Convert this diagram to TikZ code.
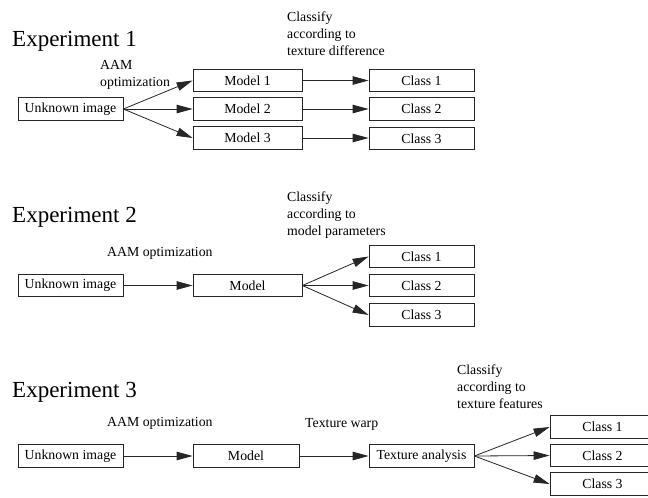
\documentclass[tikz,border=0pt]{standalone}
\usepackage{fontspec}
\setmainfont{Liberation Serif}
\usetikzlibrary{arrows.meta}

\tikzset{
  box/.style={draw=black!85, line width=0.8pt, minimum width=105pt, minimum height=22.5pt,
    inner sep=0pt, font=\fontsize{13.8}{16}\selectfont},
  modelbox/.style={box, minimum width=109pt},
  title/.style={anchor=base west, inner sep=0pt, font=\fontsize{23}{26}\selectfont},
  note/.style={anchor=base west, inner sep=0pt, align=left,
    font=\fontsize{13.8}{16.8}\selectfont},
  link/.style={draw=black!85, line width=0.8pt, -{Triangle[length=16pt,width=8.5pt]}},
}

\begin{document}
\begin{tikzpicture}[x=1pt, y=-1pt]
\useasboundingbox (0,0) rectangle (648,498);
\clip (0,0) rectangle (648,498);
\fill[white] (0,0) rectangle (648,498);

% ---------------- Experiment 1 ----------------
% multi-line notes are placed by the baseline of their last line
\node[title] (t1) at (12,46) {Experiment 1};
\node[note] (aam1) at (100,86) {AAM\\optimization};
\node[note] (cls1) at (287,55) {Classify\\according to\\texture difference};

\node[box] (u1) at (70.5,109) {Unknown image};
\node[modelbox] (m11) at (247.5,80.5) {Model 1};
\node[modelbox] (m12) at (247.5,109) {Model 2};
\node[modelbox] (m13) at (247.5,138) {Model 3};
\node[box] (c11) at (421.5,80.5) {Class 1};
\node[box] (c12) at (421.5,109) {Class 2};
\node[box] (c13) at (421.5,138.5) {Class 3};

\draw[link] (u1.east) -- (m11.west);
\draw[link] (u1.east) -- (m12.west);
\draw[link] (u1.east) -- (m13.west);
\draw[link] (m11) -- (c11);
\draw[link] (m12) -- (c12);
\draw[link] (m13.east) -- (m13.east -| c13.west);

% ---------------- Experiment 2 ----------------
\node[title] (t2) at (12,222) {Experiment 2};
\node[note] (aam2) at (107,256) {AAM optimization};
\node[note] (cls2) at (287,235) {Classify\\according to\\model parameters};

\node[box] (u2) at (70.5,285.5) {Unknown image};
\node[modelbox] (m2) at (247.5,285.5) {Model};
\node[box] (c21) at (421.5,256.5) {Class 1};
\node[box] (c22) at (421.5,285.5) {Class 2};
\node[box] (c23) at (421.5,315) {Class 3};

\draw[link] (u2) -- (m2);
\draw[link] (m2.east) -- (c21.west);
\draw[link] (m2.east) -- (c22.west);
\draw[link] (m2.east) -- (c23.west);

% ---------------- Experiment 3 ----------------
\node[title] (t3) at (12,397) {Experiment 3};
\node[note] (aam3) at (107,426) {AAM optimization};
\node[note] (warp) at (305,427) {Texture warp};
\node[note] (cls3) at (457,408) {Classify\\according to\\texture features};

\node[box] (u3) at (70.5,456) {Unknown image};
\node[box, minimum width=106pt] (m3) at (246,456) {Model};
\node[box] (ta) at (421.5,456) {Texture analysis};
\node[box] (c31) at (602.5,427) {Class 1};
\node[box] (c32) at (602.5,455.5) {Class 2};
\node[box] (c33) at (602.5,484) {Class 3};

\draw[link] (u3) -- (m3);
\draw[link] (m3) -- (ta);
\draw[link] (ta.east) -- (c31.west);
\draw[link] (ta.east) -- (c32.west);
\draw[link] (ta.east) -- (c33.west);
\end{tikzpicture}
\end{document}
